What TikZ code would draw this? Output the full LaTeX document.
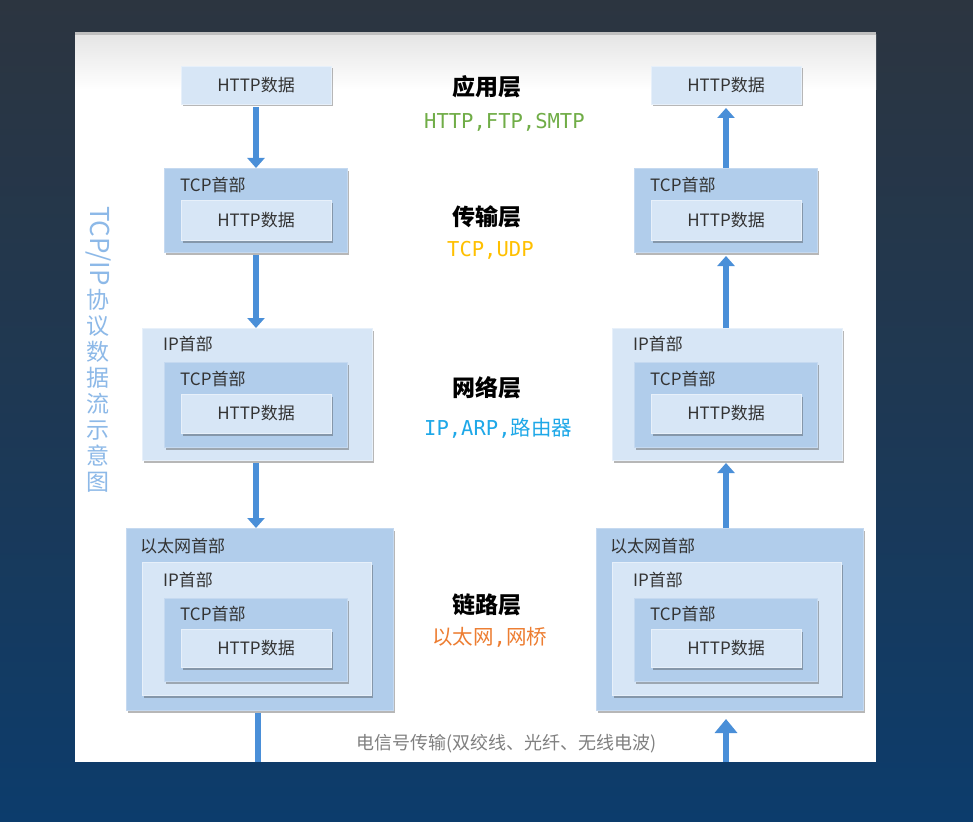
\documentclass[tikz,border=0pt]{standalone}
\usepackage{fontspec}
\setmainfont{Noto Sans CJK SC}
\newfontfamily\mono{DejaVu Sans Mono}
\usetikzlibrary{arrows.meta,shadows,fit}
\definecolor{bgtop}{HTML}{2C3540}
\definecolor{bgbot}{HTML}{0C3C6C}
\definecolor{boxL}{HTML}{D7E6F6}
\definecolor{boxD}{HTML}{B1CDEB}
\definecolor{arrb}{HTML}{4A8FD8}
\definecolor{txtc}{HTML}{333333}
\definecolor{gAPP}{HTML}{70AD47}
\definecolor{gTRN}{HTML}{FFC000}
\definecolor{gNET}{HTML}{1EA8E8}
\definecolor{gLNK}{HTML}{ED7D31}
\definecolor{ttl}{HTML}{8DB9E8}
\tikzset{
  shade box/.style={inner sep=0pt, outer sep=0pt, line width=0.6pt,
    drop shadow={shadow xshift=1.5pt, shadow yshift=-2.5pt, opacity=0.35, fill=black!80}},
  lbox/.style={shade box, fill=boxL, draw=boxL!60!white},
  dbox/.style={shade box, fill=boxD, draw=boxD!75!white},
  boxtxt/.style={font=\fontsize{17}{20}\selectfont, text=txtc, inner sep=0pt},
  hdr/.style={boxtxt, anchor=west},
  layer/.style={font=\fontsize{23}{26}\selectfont\bfseries, anchor=west, inner sep=0pt, text=black},
  sub/.style={font=\fontsize{20.5}{24}\selectfont, anchor=west, inner sep=0pt},
  arr/.style={draw=arrb, line width=6pt, -{Triangle[width=17pt,length=10pt]}},
  arrbig/.style={draw=arrb, line width=6.5pt, -{Triangle[width=22pt,length=14pt]}},
  plainline/.style={draw=arrb, line width=6.5pt},
}
\newcommand\colstack[2]{%
\begin{scope}[xshift=#2]
\node[lbox, fit={(181,66)(331,104)}] (#1app) {};
\node[boxtxt] (#1appT) at (#1app.center) {HTTP数据};
\node[dbox, fit={(164,168)(347,252)}] (#1trn) {};
\node[hdr] (#1trnH) at (180,185) {TCP首部};
\node[lbox, fit={(181,200)(331,240)}] (#1trnD) {};
\node[boxtxt] (#1trnT) at (#1trnD.center) {HTTP数据};
\node[lbox, fit={(142,328)(372,460)}] (#1net) {};
\node[hdr] (#1netH) at (163,344) {IP首部};
\node[dbox, fit={(164,362)(347,447)}] (#1netC) {};
\node[hdr] (#1netCH) at (180,379) {TCP首部};
\node[lbox, fit={(181,394)(331,433)}] (#1netD) {};
\node[boxtxt] (#1netT) at (#1netD.center) {HTTP数据};
\node[dbox, fit={(126,528)(393,710)}] (#1lnk) {};
\node[hdr] (#1lnkH) at (140,546) {以太网首部};
\node[lbox, fit={(142,562)(371,695)}] (#1lnkI) {};
\node[hdr] (#1lnkIH) at (163,580) {IP首部};
\node[dbox, fit={(164,598)(347,681)}] (#1lnkC) {};
\node[hdr] (#1lnkCH) at (180,614) {TCP首部};
\node[lbox, fit={(181,629)(331,667)}] (#1lnkD) {};
\node[boxtxt] (#1lnkT) at (#1lnkD.center) {HTTP数据};
\end{scope}}
\begin{document}
\begin{tikzpicture}[x=1pt,y=-1pt]
\useasboundingbox (0,0) rectangle (973,821);
\shade[top color=bgtop, bottom color=bgbot, middle color=bgtop!55!bgbot] (0,0) rectangle (973,821);
% panel
\fill[white] (75,32) rectangle (876,762);
\shade[top color=black!10, bottom color=white] (75,35) rectangle (876,90);
\fill[black!25] (75,32) rectangle (876,35);
% columns
\colstack{L}{0pt}
\colstack{R}{470pt}
% axis coordinates
\coordinate (Lx) at (256,0);
\coordinate (Rx) at (726,0);
\coordinate (Lbot) at (258,762);
\coordinate (Rbot) at (726,762);
% left arrows (down)
\draw[arr, shorten <=3pt] (Lapp.south -| Lx) -- (Ltrn.north -| Lx);
\draw[arr, shorten <=3pt] (Ltrn.south -| Lx) -- (Lnet.north -| Lx);
\draw[arr, shorten <=3pt] (Lnet.south -| Lx) -- (Llnk.north -| Lx);
\draw[plainline, shorten <=3pt] (Llnk.south -| Lbot) -- (Lbot);
% right arrows (up)
\draw[arr, shorten >=4pt] (Rtrn.north -| Rx) -- (Rapp.south -| Rx);
\draw[arr, shorten >=4pt] (Rnet.north -| Rx) -- (Rtrn.south -| Rx);
\draw[arr, shorten >=3pt] (Rlnk.north -| Rx) -- (Rnet.south -| Rx);
\draw[arrbig, shorten >=9pt] (Rbot) -- (Rlnk.south -| Rbot);
% layer labels
\node[layer] (l1) at (452,87) {应用层};
\node[sub, text=gAPP] (s1) at (424,122) {\mono HTTP,FTP,SMTP};
\node[layer] (l2) at (452,217) {传输层};
\node[sub, text=gTRN] (s2) at (447,250) {\mono TCP,UDP};
\node[layer] (l3) at (452,388) {网络层};
\node[sub, text=gNET] (s3) at (424,428) {{\mono IP,ARP,}路由器};
\node[layer] (l4) at (452,605) {链路层};
\node[sub, text=gLNK] (s4) at (432,637) {以太网{\mono ,}网桥};
% vertical title
\node[font=\fontsize{26}{28}\selectfont, text=ttl, rotate=-90, inner sep=0pt] (ttlA) at (98,246) {TCP/IP};
\node[font=\fontsize{23}{26}\selectfont, text=ttl, align=center, anchor=north, inner sep=0pt] (ttlB) at (98,289) {协\\议\\数\\据\\流\\示\\意\\图};
% bottom text
\node[font=\fontsize{18}{20}\selectfont, text=black!50, anchor=west, inner sep=0pt] (sig) at (356,744) {电信号传输(双绞线、光纤、无线电波)};
\end{tikzpicture}
\end{document}
